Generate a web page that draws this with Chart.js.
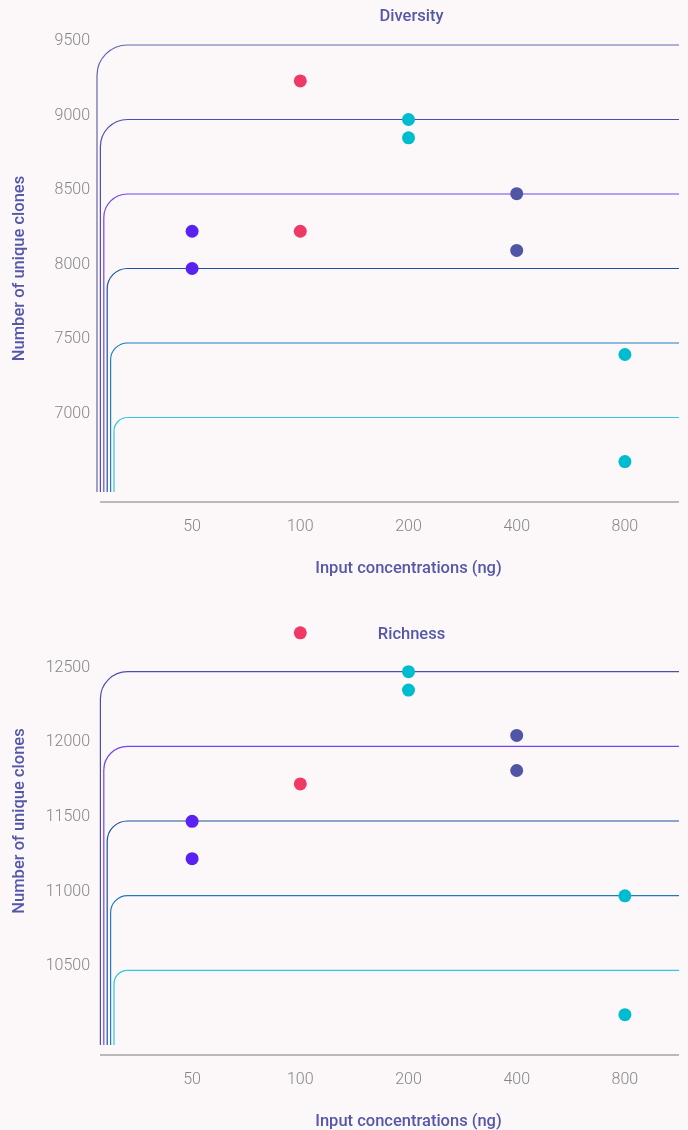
<!DOCTYPE html>
<html>
<head>
<meta charset="utf-8">
<script src="https://cdn.jsdelivr.net/npm/chart.js@4.4.1/dist/chart.umd.min.js"></script>
<style>
  html, body { margin: 0; padding: 0; background: #fcf8fa; overflow: hidden; }
  .box { position: relative; width: 688px; }
  #box1 { height: 580px; }
  #box2 { height: 550px; }
</style>
</head>
<body>
<div class="box" id="box1"><canvas id="diversity"></canvas></div>
<div class="box" id="box2"><canvas id="richness"></canvas></div>
<script>
const concentrations = ['50', '100', '200', '400', '800'];
const pointColors = ['#5a22f2', '#ee3a64', '#00bccf', '#5055a5', '#00bccf'];

const diversityRep1 = [8250, 9259, 9000, 8502, 7423];
const diversityRep2 = [8000, 8250, 8877, 8121, 6704];
const diversityTicks = [7000, 7500, 8000, 8500, 9000, 9500];

const richnessRep1 = [11498, 12760, 12500, 12073, 10999];
const richnessRep2 = [11248, 11748, 12377, 11838, 10203];
const richnessTicks = [10500, 11000, 11500, 12000, 12500];

// grid colours, lowest tick first
const gridColors = ['#33c8dd', '#1f7bbb', '#1b549b', '#7344f0', '#4d50aa', '#6466ac'];
const titleColor = '#5558a8';

Chart.defaults.font.family = 'Roboto';

// rounded grid lines that rise from the bottom, plus the detached x axis line and title
const curvedGrid = {
  id: 'curvedGrid',
  beforeDatasetsDraw(chart, args, opts) {
    const { ctx, chartArea } = chart;
    const y = chart.scales.y;
    const left = chartArea.left;
    ctx.save();
    ctx.lineWidth = 1.2;
    y.ticks.forEach((t, i) => {
      const py = y.getPixelForValue(t.value);
      const px = left - 24 - i * 3.4;
      const r = (left - 10.5) - px;
      ctx.strokeStyle = gridColors[i];
      ctx.beginPath();
      ctx.moveTo(px, chartArea.bottom);
      ctx.lineTo(px, py + r);
      ctx.arcTo(px, py, px + r, py, r);
      ctx.lineTo(chartArea.right, py);
      ctx.stroke();
    });
    ctx.strokeStyle = '#7a7a7a';
    ctx.beginPath();
    ctx.moveTo(left - 38, chartArea.bottom + 10);
    ctx.lineTo(chartArea.right, chartArea.bottom + 10);
    ctx.stroke();

    ctx.fillStyle = titleColor;
    ctx.font = '500 16.5px Roboto';
    ctx.textAlign = 'center';
    ctx.textBaseline = 'middle';
    ctx.fillText(opts.title, (chartArea.left + chartArea.right) / 2 + 3, opts.titleY);
    ctx.restore();
  }
};

function makeChart(id, title, titleY, rep1, rep2, ticks, min, max, padTop, padBottom) {
  const toPoints = vals => vals.map((v, i) => ({ x: i, y: v }));
  return new Chart(document.getElementById(id), {
    type: 'scatter',
    data: {
      datasets: [
        { data: toPoints(rep1), pointBackgroundColor: pointColors, pointBorderWidth: 0, pointRadius: 6.5, clip: false },
        { data: toPoints(rep2), pointBackgroundColor: pointColors, pointBorderWidth: 0, pointRadius: 6.5, clip: false }
      ]
    },
    options: {
      responsive: true,
      maintainAspectRatio: false,
      animation: false,
      events: [],
      layout: { padding: { top: padTop, bottom: padBottom, left: 0, right: 9 } },
      plugins: {
        legend: { display: false },
        tooltip: { enabled: false },
        curvedGrid: { title: title, titleY: titleY }
      },
      scales: {
        x: {
          type: 'linear',
          min: -0.5,
          max: 4.5,
          afterBuildTicks: s => { s.ticks = concentrations.map((c, i) => ({ value: i })); },
          afterFit: s => { s.height = 84; s.paddingLeft = 0; s.paddingRight = 0; },
          grid: { display: false, drawTicks: false },
          border: { display: false },
          ticks: {
            callback: v => concentrations[v],
            padding: 25,
            maxRotation: 0,
            color: '#858585',
            font: { size: 16, weight: 300 }
          },
          title: {
            display: true,
            text: 'Input concentrations (ng)',
            color: titleColor,
            font: { size: 16.5, weight: 500 },
            padding: { top: 0, bottom: -2.5 }
          }
        },
        y: {
          min: min,
          max: max,
          afterBuildTicks: s => { s.ticks = ticks.map(v => ({ value: v })); },
          afterFit: s => { s.width = 138; s.paddingTop = 0; s.paddingBottom = 0; },
          grid: { display: false, drawTicks: false },
          border: { display: false },
          ticks: {
            callback: v => String(v),
            padding: 48,
            labelOffset: -4,
            color: '#858585',
            font: { size: 16, weight: 300 }
          },
          title: {
            display: true,
            text: 'Number of unique clones',
            color: titleColor,
            font: { size: 16.5, weight: 500 },
            padding: { top: 10, bottom: 0 }
          }
        }
      }
    },
    plugins: [curvedGrid]
  });
}

makeChart('diversity', 'Diversity', 17, diversityRep1, diversityRep2, diversityTicks, 6500, 9500, 45, 4);
makeChart('richness', 'Richness', 55, richnessRep1, richnessRep2, richnessTicks, 10000, 13000, 17, 1);
</script>
</body>
</html>
